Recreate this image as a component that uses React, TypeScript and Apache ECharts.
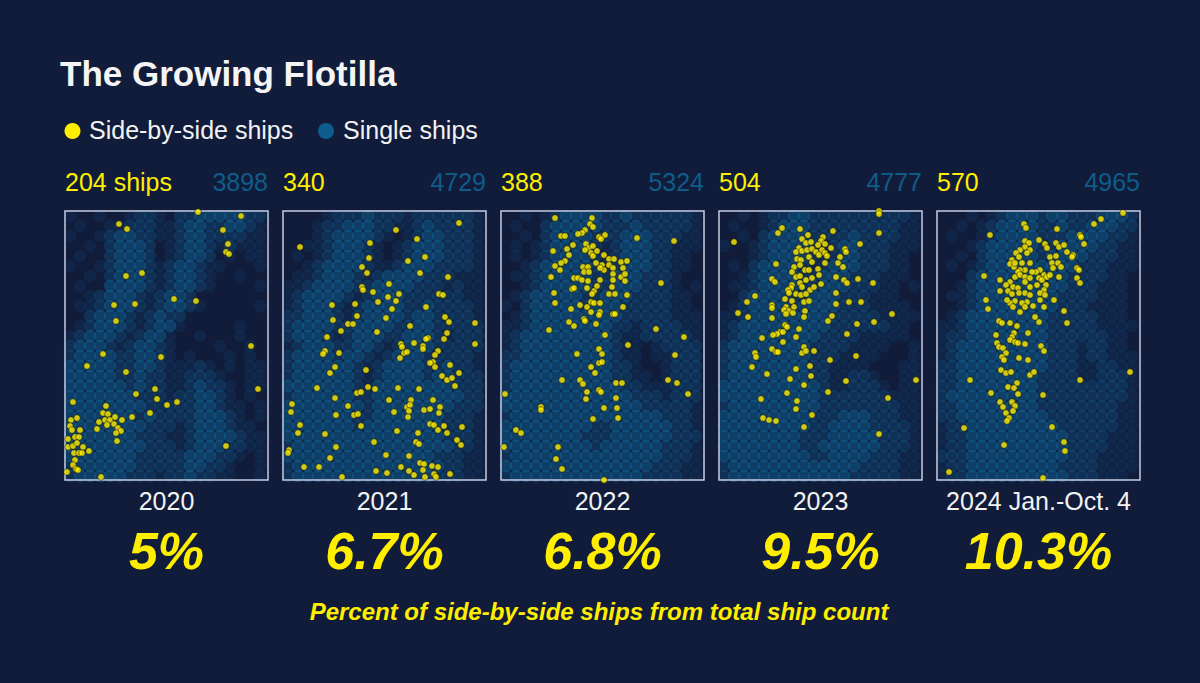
import React, { useEffect, useRef } from "react";
import * as echarts from "echarts";

const BG = "#111c3b";
const YELLOW = "#ffee00";
const BLUE = "#0e6499";
const BLUE_TEXT = "#0e5c8a";
const FONT = '"Liberation Sans", Arial, Helvetica, sans-serif';

const years = ["2020", "2021", "2022", "2023", "2024 Jan.-Oct. 4"];
const sideCounts = ["204 ships", "340", "388", "504", "570"];
const singleCounts = ["3898", "4729", "5324", "4777", "4965"];
const percents = ["5%", "6.7%", "6.8%", "9.5%", "10.3%"];

// Side-by-side ship positions (x east, y north, in panel units)
const side2020 = [
  [133,268],[176,264],[54,256],[62,251],[158,250],[163,236],[161,228],[164,226],[77,207],[61,204],[109,181],[131,179],[49,175],[70,176],[51,159],[186,134],[38,126],[96,123],[22,114],[61,108],[193,91],[71,86],[90,91],[92,81],[102,75],[112,78],[85,67],[67,63],[8,78],[41,74],[6,60],[12,62],[5,54],[7,50],[15,50],[3,41],[10,43],[14,43],[3,33],[8,34],[12,37],[18,33],[24,29],[9,27],[14,27],[17,27],[10,20],[8,15],[11,11],[13,10],[2,8],[36,3],[161,34],[38,67],[43,66],[34,58],[40,60],[45,60],[50,63],[57,60],[32,51],[42,55],[49,56],[53,52],[56,49],[51,47],[52,39]
];
const side2021 = [
  [176,257],[17,233],[113,250],[87,237],[134,241],[86,222],[125,219],[142,223],[79,213],[84,207],[137,207],[165,203],[106,196],[79,193],[80,190],[90,188],[105,183],[116,186],[156,186],[160,185],[95,178],[113,179],[109,171],[143,173],[49,175],[72,176],[74,164],[50,160],[65,156],[70,156],[103,162],[162,163],[166,158],[192,157],[127,154],[58,149],[94,148],[164,147],[161,141],[44,143],[145,142],[143,141],[131,137],[118,136],[119,133],[140,134],[140,131],[121,127],[124,128],[117,122],[155,129],[152,125],[42,129],[40,126],[56,127],[150,118],[147,117],[152,113],[167,115],[192,136],[52,113],[47,107],[83,110],[159,104],[164,100],[169,102],[176,107],[172,94],[34,92],[85,93],[92,91],[115,92],[136,91],[74,87],[78,88],[52,82],[106,80],[128,80],[150,80],[65,74],[124,73],[127,75],[126,69],[125,63],[111,68],[141,70],[147,71],[157,73],[156,67],[9,76],[8,68],[53,65],[71,65],[75,66],[17,55],[15,47],[42,46],[78,54],[114,49],[135,47],[147,56],[151,55],[161,54],[155,50],[164,47],[179,53],[174,40],[178,35],[91,38],[133,38],[136,36],[53,33],[6,30],[5,27],[47,22],[103,25],[126,24],[21,13],[36,13],[59,3],[93,9],[104,7],[118,13],[137,17],[141,16],[126,9],[131,5],[140,10],[142,3],[149,14],[155,13],[151,6],[153,3],[167,6]
];
const side2022 = [
  [54,262],[91,262],[89,256],[92,253],[84,250],[81,247],[77,246],[60,244],[64,244],[98,243],[104,245],[100,241],[136,242],[173,239],[72,235],[52,229],[66,231],[68,225],[85,236],[88,232],[92,234],[84,230],[90,227],[96,229],[92,224],[103,225],[108,221],[113,221],[120,218],[126,219],[64,219],[60,217],[54,214],[59,210],[82,213],[87,213],[101,215],[108,215],[103,210],[112,212],[122,212],[83,208],[88,208],[95,217],[99,212],[50,203],[73,202],[77,202],[81,200],[87,199],[99,200],[112,206],[112,200],[120,203],[124,206],[124,199],[71,191],[73,192],[86,192],[93,189],[96,194],[111,193],[108,186],[114,186],[126,185],[160,197],[53,187],[91,186],[54,177],[70,171],[79,175],[90,178],[93,177],[99,177],[86,173],[90,168],[99,168],[83,161],[84,159],[68,158],[73,154],[95,156],[112,166],[114,166],[122,173],[98,165],[48,150],[104,145],[127,135],[155,151],[183,143],[76,126],[98,131],[101,126],[174,125],[90,113],[98,117],[101,118],[94,107],[61,100],[79,100],[82,96],[98,90],[100,88],[115,97],[121,97],[167,100],[176,97],[187,86],[4,86],[86,88],[85,81],[115,82],[103,72],[116,72],[40,73],[40,70],[117,62],[92,61],[15,50],[20,47],[3,33],[57,33],[55,21],[61,11],[103,0]
];
const side2023 = [
  [160,269],[160,266],[160,247],[15,238],[63,252],[59,247],[81,251],[114,249],[89,245],[104,243],[83,241],[87,237],[92,238],[102,239],[99,235],[106,236],[80,232],[77,228],[83,229],[88,230],[93,231],[97,228],[103,230],[112,232],[126,231],[127,228],[141,236],[78,221],[82,220],[90,223],[93,218],[100,225],[106,227],[108,224],[121,223],[119,217],[124,213],[57,216],[75,213],[73,208],[81,215],[86,210],[90,210],[99,211],[100,205],[106,217],[77,203],[81,204],[87,200],[93,202],[73,195],[81,197],[72,192],[83,193],[91,190],[95,193],[102,196],[117,203],[125,200],[128,197],[139,201],[154,197],[53,201],[56,198],[69,190],[77,186],[82,185],[87,186],[70,187],[66,181],[73,179],[85,178],[90,179],[36,184],[28,178],[53,175],[53,172],[67,173],[65,170],[70,169],[75,173],[74,167],[67,166],[86,169],[85,163],[117,187],[117,176],[130,178],[142,178],[19,167],[29,163],[53,162],[109,159],[113,164],[138,156],[155,158],[173,166],[66,155],[68,153],[61,148],[64,148],[58,146],[54,145],[80,151],[77,143],[43,142],[128,146],[64,138],[53,131],[57,128],[59,128],[85,133],[83,127],[87,129],[95,129],[36,127],[37,123],[111,120],[137,124],[33,113],[48,106],[77,111],[91,114],[92,104],[71,101],[85,95],[127,99],[197,100],[68,87],[109,88],[42,81],[78,79],[77,71],[169,82],[44,62],[50,60],[57,59],[93,65],[85,53],[160,46]
];
const side2024 = [
  [186,267],[164,261],[157,256],[87,256],[89,252],[120,251],[53,245],[143,245],[144,243],[147,236],[102,240],[88,239],[92,237],[88,233],[108,236],[110,232],[119,237],[122,233],[127,235],[130,228],[136,225],[135,223],[93,230],[90,227],[83,230],[79,227],[82,223],[75,220],[73,216],[77,213],[78,217],[85,217],[93,217],[113,223],[119,224],[115,217],[121,217],[124,213],[116,212],[140,212],[142,210],[103,210],[99,208],[107,205],[95,208],[88,210],[83,210],[81,208],[78,203],[83,205],[88,203],[93,202],[102,202],[105,200],[110,203],[113,205],[122,203],[140,202],[143,197],[47,204],[63,200],[73,198],[69,195],[76,193],[81,192],[88,198],[93,193],[100,195],[109,195],[107,190],[63,189],[71,189],[75,186],[82,187],[88,187],[93,185],[103,187],[108,185],[103,180],[107,173],[90,178],[85,177],[78,179],[73,177],[70,180],[49,180],[51,171],[76,173],[83,168],[88,173],[96,174],[102,158],[98,163],[117,180],[127,169],[130,157],[62,159],[65,157],[73,157],[80,154],[77,147],[75,143],[73,140],[78,138],[81,137],[88,136],[91,147],[59,145],[60,137],[62,133],[66,132],[69,127],[65,123],[67,120],[104,134],[107,129],[82,122],[91,120],[33,100],[64,110],[69,107],[74,108],[93,105],[97,108],[143,100],[193,108],[71,93],[80,97],[77,92],[81,86],[54,87],[63,78],[66,73],[75,78],[78,74],[76,69],[69,67],[72,62],[70,59],[106,85],[115,53],[27,52],[67,35],[127,38],[128,29],[12,8],[106,2]
];

// Single-ship density: 27 rows (north to south) x 20 columns (west to east); 0/./1/2/3
const single2020 = [
  "1..1..1221.223333322",
  ".1..1122211233223321",
  "1..12332211233222211",
  "..1.23332.1233212111",
  ".1..23332.12332.1.11",
  "1..1233321233211...1",
  "..1.23332123321..1..",
  ".1..33332123321....1",
  "..12333212332.......",
  ".1123332123321.....1",
  "..2333212322........",
  ".12333212331.....1..",
  "12333212331..1...1..",
  "23332123321....1..1.",
  "23333223321.1...1.1.",
  "333332233211121.1.11",
  "3333322322112221..11",
  "33333323221123221.11",
  "33333332221223321.1.",
  "333333332222233211.1",
  "333333323222233321.1",
  "3333333322212333211.",
  "33333332221123333211",
  "33333333222123332211",
  "333333322222333221.1",
  "23333332222233221..1",
  "23333322212232211..1",
];
const single2021 = [
  "....1222322212222221",
  "...12233322112322221",
  "...12333321.12332221",
  "..11233321.123332221",
  ".1.1233321.123332221",
  "..123333211233322221",
  ".1123332123333222111",
  "11233332233332221211",
  "12333321233322222211",
  "12333212333322322221",
  "22333212333323322221",
  "23333223333223322222",
  "23332123332233321222",
  "12333223321233322222",
  "23333233212333222221",
  "23333332123333223221",
  "23333332123333233222",
  "33333332133333333222",
  "23333332233333333322",
  "33333333233333333222",
  "33333332233333332221",
  "33333332333333332221",
  "33333333333333332221",
  "23333333333333333221",
  "33333333333333322211",
  "23333333333333332211",
  "23333333333333322211",
];
const single2022 = [
  "..1.1 23333 22322 22221",
  ".1..2 33333 22232 22221",
  "..1.2 33332 22333 22211",
  ".1.12 33332 12333 22111",
  ".1.12 33332 12333 2211.",
  "..123 33332 12333 2211.",
  ".1123 33332 23332 221..",
  "..123 33332 23332 221.1",
  ".1233 33322 33322 2211.",
  "1.233 33323 33222 2211.",
  ".1233 33333 33222 22111",
  "11233 33333 32212 22211",
  "12333 33333 32112 22221",
  "12333 33333 3211. 12222",
  "22333 33333 3211. 11222",
  "23333 33333 3221. .1222",
  "23333 33333 32211 .1222",
  "23333 33333 33221 11222",
  "33333 33333 33322 21222",
  "33333 33333 33332 22221",
  "23333 33333 33333 32221",
  "33333 33332 23333 33221",
  "33333 33322 23333 33222",
  "33333 33332 33333 32221",
  "23333 33333 33333 32221",
  "33333 33333 33333 22211",
  "23333 33333 33332 22211",
];
const single2023 = [
  "..1.1 22332 22222 22221",
  ".1..1 23332 22222 22211",
  "..1.2 33332 22232 22211",
  "1..12 33332 12332 22111",
  "...12 33332 12332 2211.",
  ".1.23 33321 23332 2211.",
  "..123 33322 33322 2111.",
  ".1123 33322 33322 211.1",
  "..233 33223 33222 111..",
  ".1233 33233 33222 1111.",
  "11233 33333 32222 21111",
  "12333 33333 32222 2211.",
  "12333 33333 22221 1111.",
  "23333 33332 22211 11..1",
  "23333 33332 22111 1...1",
  "23333 33332 21111 ...11",
  "23333 33332 21122 1..11",
  "33333 33333 21122 21.11",
  "33333 33333 22222 22111",
  "23333 33333 22222 22211",
  "33333 33332 22333 22211",
  "33333 33332 23333 22221",
  "33333 33322 23333 32221",
  "33333 33322 33333 32221",
  "33333 33332 23333 22211",
  "23333 33333 33332 22211",
  "23333 33333 33322 22211",
];
const single2024 = [
  "...1. 12333 23322 23332",
  "..1.1 23333 22322 33322",
  ".1..1 23333 22233 33221",
  "...12 33333 22333 32211",
  "..1.2 33333 23333 22211",
  ".1.12 33333 33332 22111",
  "...23 33333 33322 2211.",
  "..123 33333 33322 2111.",
  ".1123 33333 33222 2111.",
  "..123 33333 33222 1111.",
  ".1233 33333 32222 2111.",
  "11233 33333 32222 21111",
  "12233 33333 32222 2211.",
  "12333 33333 32221 2211.",
  "12333 33333 32221 22111",
  "22333 33333 32221 12211",
  "22333 33333 22221 12221",
  "22333 33333 22222 22221",
  "23333 33333 22222 22221",
  "22333 33333 22222 22211",
  "22333 33333 32222 22211",
  "12233 33333 33222 22211",
  "12233 33333 33322 22111",
  "12233 33333 33322 22111",
  "22233 33333 33322 21111",
  "12233 33333 33222 21111",
  "12233 33333 33322 2111.",
];

const sideData = [side2020, side2021, side2022, side2023, side2024];
const singleData = [single2020, single2021, single2022, single2023, single2024];

const X_MAX = 203;
const Y_MAX = 269;
const CELL = 10;
const OPACITY = [0, 0.13, 0.28, 0.48];

function densityPoints(rows: string[]) {
  const out: any[] = [];
  rows.forEach((row, r) => {
    const s = row.replace(/ /g, "");
    for (let c = 0; c < 20; c++) {
      const ch = s[c];
      const d = ch === "1" || ch === "2" || ch === "3" ? Number(ch) : 0;
      if (d > 0) {
        out.push({
          value: [c * CELL + CELL / 2, Y_MAX - (r * CELL + CELL / 2)],
          itemStyle: { opacity: OPACITY[d] },
        });
      }
    }
  });
  return out;
}

const PANEL_LEFT = 65;
const PANEL_STEP = 218;
const PANEL_TOP = 211;
const PANEL_W = 203;
const PANEL_H = 269;

export default function App() {
  const ref = useRef<HTMLDivElement>(null);

  useEffect(() => {
    document.body.style.margin = "0";
    document.body.style.background = BG;
    if (!ref.current) return;
    const chart = echarts.init(ref.current, null, { renderer: "svg" });

    const grids: any[] = [];
    const xAxes: any[] = [];
    const yAxes: any[] = [];
    const series: any[] = [];
    const graphics: any[] = [];

    const text = (t: string, x: number, y: number, font: string, fill: string, align = "left") => ({
      type: "text",
      x,
      y,
      silent: true,
      z: 10,
      style: {
        text: t,
        font,
        fill,
        align,
        textAlign: align,
        verticalAlign: "middle",
        textVerticalAlign: "middle",
      },
    });

    years.forEach((yr, i) => {
      const left = PANEL_LEFT + PANEL_STEP * i;
      const cx = left + PANEL_W / 2;
      grids.push({ left, top: PANEL_TOP, width: PANEL_W, height: PANEL_H, show: false });
      xAxes.push({ type: "value", gridIndex: i, min: 0, max: X_MAX, show: false });
      yAxes.push({ type: "value", gridIndex: i, min: 0, max: Y_MAX, show: false });
      series.push({
        name: "Single ships " + yr,
        type: "scatter",
        xAxisIndex: i,
        yAxisIndex: i,
        symbol: "circle",
        symbolSize: 12.5,
        clip: false,
        silent: true,
        z: 2,
        itemStyle: { color: BLUE },
        data: densityPoints(singleData[i]),
      });
      series.push({
        name: "Side-by-side ships " + yr,
        type: "scatter",
        xAxisIndex: i,
        yAxisIndex: i,
        symbol: "circle",
        symbolSize: 6.5,
        clip: false,
        silent: true,
        z: 5,
        itemStyle: { color: YELLOW, borderColor: "rgba(30,25,0,0.9)", borderWidth: 0.8 },
        data: sideData[i],
      });
      graphics.push({
        type: "rect",
        silent: true,
        z: 3,
        shape: { x: left, y: PANEL_TOP, width: PANEL_W, height: PANEL_H },
        style: { fill: "none", stroke: "#c5cde2", lineWidth: 1.5 },
      });
      graphics.push(text(sideCounts[i], left, 182, `25px ${FONT}`, YELLOW, "left"));
      graphics.push(text(singleCounts[i], left + PANEL_W, 182, `25px ${FONT}`, BLUE_TEXT, "right"));
      graphics.push(text(yr, cx, 501, `25px ${FONT}`, "#f2f2f2", "center"));
      graphics.push(text(percents[i], cx, 551, `italic bold 52px ${FONT}`, YELLOW, "center"));
    });

    graphics.push(text("The Growing Flotilla", 60, 73, `bold 35px ${FONT}`, "#f4f4f4", "left"));
    graphics.push({
      type: "circle", silent: true, z: 10,
      shape: { cx: 72.5, cy: 131, r: 8 },
      style: { fill: YELLOW },
    });
    graphics.push(text("Side-by-side ships", 89, 130, `25px ${FONT}`, "#f2f2f2", "left"));
    graphics.push({
      type: "circle", silent: true, z: 10,
      shape: { cx: 326, cy: 131, r: 8 },
      style: { fill: "#0c5d8c" },
    });
    graphics.push(text("Single ships", 343, 130, `25px ${FONT}`, "#f2f2f2", "left"));
    graphics.push(
      text("Percent of side-by-side ships from total ship count", 599, 611, `italic bold 24px ${FONT}`, YELLOW, "center")
    );

    chart.setOption({
      animation: false,
      backgroundColor: BG,
      grid: grids,
      xAxis: xAxes,
      yAxis: yAxes,
      series,
      graphic: { elements: graphics },
    });

    return () => chart.dispose();
  }, []);

  return <div ref={ref} style={{ width: 1200, height: 683, background: BG }} />;
}
